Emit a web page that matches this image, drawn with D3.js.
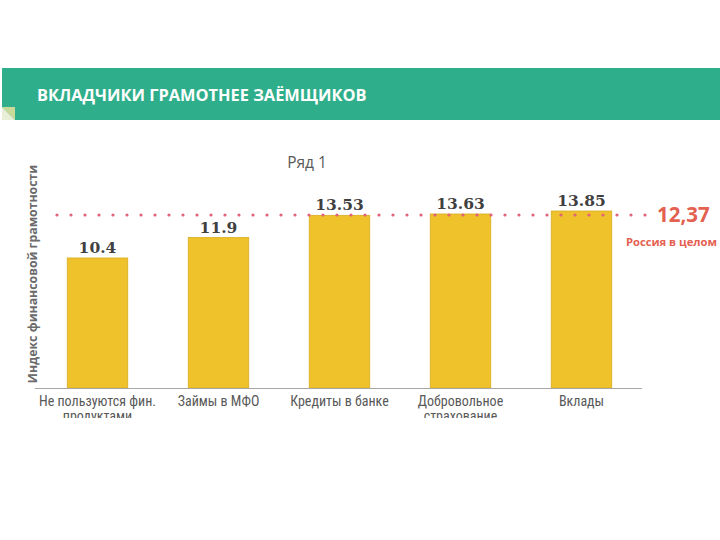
<!DOCTYPE html>
<html><head><meta charset="utf-8">
<script src="https://cdn.jsdelivr.net/npm/d3@7"></script>
<style>body{margin:0;background:#fff}svg{display:block}</style>
</head><body>
<svg id="c" width="720" height="540"></svg>
<script>
const categories = [["Не пользуются фин.", "продуктами"], ["Займы в МФО"], ["Кредиты в банке"], ["Добровольное", "страхование"], ["Вклады"]];
const values = [10.4, 11.9, 13.53, 13.63, 13.85];
const valueLabels = ["10.4", "11.9", "13.53", "13.63", "13.85"];
const russiaValue = "12,37";
const russiaLabel = "Россия в целом";
const headerTitle = "ВКЛАДЧИКИ ГРАМОТНЕЕ ЗАЁМЩИКОВ";
const seriesName = "Ряд 1";
const yAxisTitle = "Индекс финансовой грамотности";

const svg = d3.select("#c");

// header band
svg.append("rect").attr("x", 2).attr("y", 68).attr("width", 718).attr("height", 52).attr("fill", "#2fae8b");
svg.append("path").attr("d", "M2,107 L15,107 L15,120 Z").attr("fill", "#c9d99a");
svg.append("path").attr("d", "M2,107 L15,120 L2,120 Z").attr("fill", "#e9efd6");
svg.append("text").attr("x", 37).attr("y", 101).attr("fill", "#fff")
  .attr("font-family", "'Open Sans', 'DejaVu Sans', sans-serif").attr("font-weight", 700)
  .attr("font-size", 16.4).text(headerTitle);

const x = d3.scaleBand().domain(d3.range(values.length)).range([37, 642]).paddingInner(0.5).paddingOuter(0.25);
const y = d3.scaleLinear().domain([0.85, 13.85]).range([388, 211]);

// series title
svg.append("text").attr("x", 307).attr("y", 168).attr("text-anchor", "middle").attr("fill", "#595959")
  .attr("font-family", "'Open Sans', sans-serif").attr("font-size", 15.5).text(seriesName);

// y axis title
svg.append("text").attr("transform", "translate(37,274) rotate(-90)").attr("text-anchor", "middle")
  .attr("fill", "#6b6b6b").attr("font-family", "'Open Sans', 'DejaVu Sans', sans-serif").attr("font-weight", 700)
  .attr("font-size", 12.3).text(yAxisTitle);

// bars
svg.append("g").selectAll("rect").data(values).join("rect")
  .attr("x", (d, i) => x(i)).attr("width", x.bandwidth())
  .attr("y", d => y(d)).attr("height", d => y.range()[0] - y(d))
  .attr("fill", "#efc12b").attr("stroke", "#d9ad22").attr("stroke-width", 0.8);

// axis
const xAxis = d3.axisBottom(x).tickSize(0).tickFormat("");
const ga = svg.append("g").attr("transform", `translate(0,${y.range()[0]})`).call(xAxis);
ga.select(".domain").attr("d", "M35,0.5H642").attr("stroke", "#a6a6a6").attr("stroke-width", 1.2);

// category labels, clipped
svg.append("clipPath").attr("id", "clipCat").append("rect").attr("x", 0).attr("y", 388).attr("width", 720).attr("height", 30);
const cg = svg.append("g").attr("clip-path", "url(#clipCat)");
categories.forEach((lines, i) => {
  const t = cg.append("text").attr("x", x(i) + x.bandwidth() / 2).attr("y", 406).attr("text-anchor", "middle")
    .attr("fill", "#595959").attr("font-family", "'Liberation Sans Narrow', 'Roboto Condensed', 'DejaVu Sans Condensed', sans-serif")
    .attr("font-size", 14);
  lines.forEach((l, j) => t.append("tspan").attr("x", x(i) + x.bandwidth() / 2).attr("dy", j ? 15 : 0).text(l));
});

// dotted reference line
const refY = 215;
svg.append("g").selectAll("circle").data(d3.range(57, 650, 14)).join("circle")
  .attr("cx", d => d).attr("cy", refY).attr("r", 1.6).attr("fill", "#e0637a");

// value labels
svg.append("g").selectAll("text").data(values).join("text")
  .attr("x", (d, i) => x(i) + x.bandwidth() / 2).attr("y", d => y(d) - 5).attr("text-anchor", "middle")
  .attr("fill", "#404040").attr("font-family", "'DejaVu Serif', 'Liberation Serif', serif").attr("font-weight", 700)
  .attr("font-size", 15.5).text((d, i) => valueLabels[i]);

// Russia label
svg.append("text").attr("x", 657).attr("y", 222).attr("fill", "#e4604f")
  .attr("font-family", "'Open Sans', sans-serif").attr("font-weight", 700).attr("font-size", 20.5).text(russiaValue);
svg.append("text").attr("x", 626).attr("y", 246).attr("fill", "#e4604f")
  .attr("font-family", "'Open Sans', sans-serif").attr("font-weight", 700).attr("font-size", 11.2).text(russiaLabel);
</script>
</body></html>
